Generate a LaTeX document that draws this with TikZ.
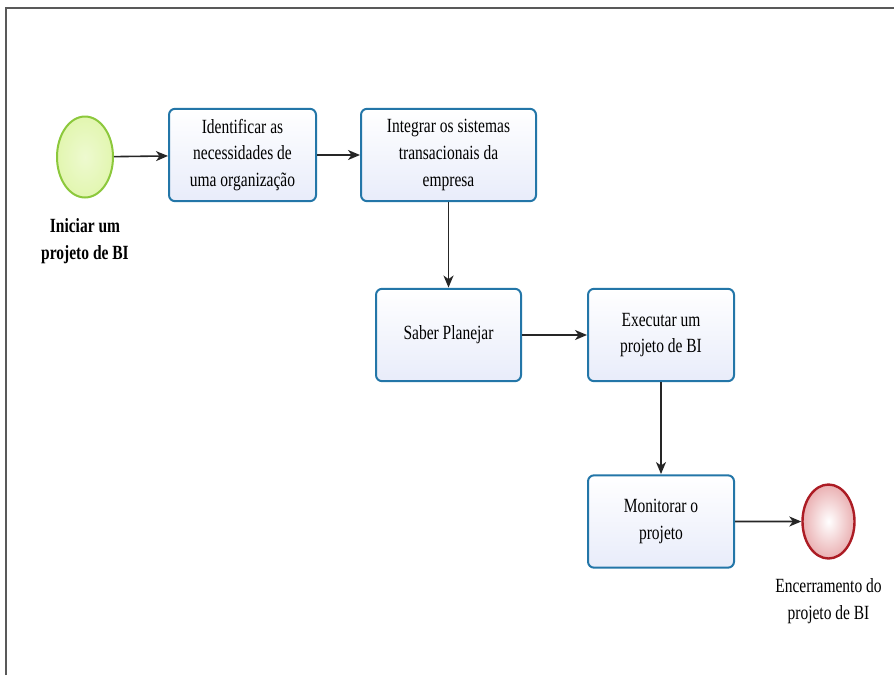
\documentclass[tikz,border=0pt]{standalone}
\usepackage{fontspec}
\setmainfont{Liberation Serif}
\usepackage{tikz}
\usetikzlibrary{arrows.meta}
\usetikzlibrary{shapes.geometric}
\usetikzlibrary{positioning}
\definecolor{taskline}{RGB}{35,118,168}
\definecolor{taskfill}{RGB}{232,236,250}
\definecolor{startline}{RGB}{140,200,60}
\definecolor{startfill}{RGB}{226,246,176}
\definecolor{endline}{RGB}{172,28,36}
\definecolor{endfill}{RGB}{234,176,178}
\tikzset{task/.style = {draw = taskline, line width = 2pt, rounded corners = 6pt, top color = white, bottom color = taskfill, align = center, minimum width = #1, minimum height = 71pt, inner sep = 2pt, font = \fontsize{15.5}{20.5}\selectfont, yscale = 1.3, transform shape}}
\tikzset{flow/.style = {-{Stealth[length = 12pt, width = 10pt, inset = 3.5pt]}, line width = 1.6pt, draw = black!85}}
\tikzset{lbl/.style = {align = center, font = \fontsize{15.5}{20.5}\selectfont, yscale = 1.3, transform shape}}
\begin{document}
\begin{tikzpicture}[x = 1pt, y = -1pt]
      \useasboundingbox (0, 0) rectangle (894, 675);
      \draw [line width = 1.6pt, black!65] (6, 675) -- (6, 8) -- (894, 8);
      \node [ellipse, draw = startline, line width = 2pt, inner color = white!40!startfill, outer color = startfill, minimum width = 56pt, minimum height = 81pt] (start) at (85, 157) {};
      \node [lbl, font = \bfseries\fontsize{15.5}{20.5}\selectfont] (startlbl) at (85, 241) {Iniciar um\\projeto de BI};
      \node [task = 147pt] (ident) at (242.5, 155) {Identificar as\\necessidades de\\uma organização};
      \node [task = 175pt] (integ) at (448.5, 155) {Integrar os sistemas\\transacionais da\\empresa};
      \node [task = 145pt] (saber) at (448.5, 335) {Saber Planejar};
      \node [task = 146pt] (exec) at (661, 335) {Executar um\\projeto de BI};
      \node [task = 146pt] (monit) at (661, 521.5) {Monitorar o\\projeto};
      \node [ellipse, draw = endline, line width = 2.4pt, shading = radial, inner color = white, outer color = endfill, minimum width = 52pt, minimum height = 74pt] (end) at (828.5, 521.5) {};
      \node [lbl] (endlbl) at (828.5, 601) {Encerramento do\\projeto de BI};
      \draw [flow] (start) -- (ident);
      \draw [flow] (ident) -- (integ);
      \draw [flow] (integ) -- (saber);
      \draw [flow] (saber) -- (exec);
      \draw [flow] (exec) -- (monit);
      \draw [flow] (monit) -- (end);
    \end{tikzpicture}
\end{document}
